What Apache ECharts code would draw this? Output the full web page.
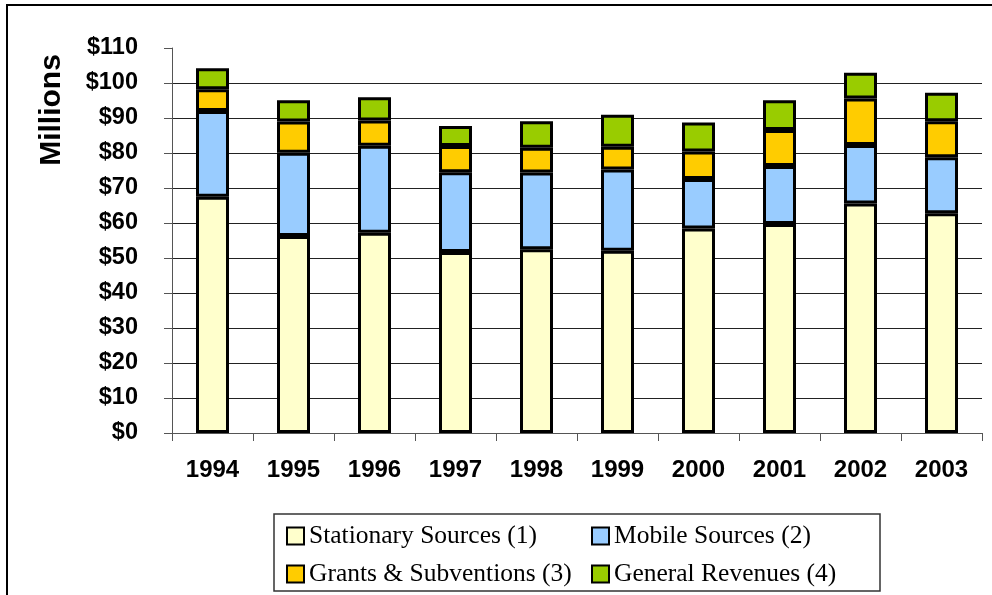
<!DOCTYPE html>
<html>
<head>
<meta charset="utf-8">
<script src="https://cdn.jsdelivr.net/npm/echarts@6/dist/echarts.min.js"></script>
<style>
  html, body { margin: 0; padding: 0; background: #fff; }
  #chart { width: 992px; height: 595px; }
</style>
</head>
<body>
<div id="chart"></div>
<script>
// data (millions of dollars)
const years = ['1994', '1995', '1996', '1997', '1998', '1999', '2000', '2001', '2002', '2003']
const stationary = [67.5, 56.3, 57.2, 51.7, 52.5, 52.1, 58.4, 59.7, 65.6, 62.8]
const mobile = [24.5, 23.8, 24.9, 22.8, 21.9, 23.2, 14.2, 16.6, 16.7, 16.0]
const grants = [6.2, 8.9, 7.2, 7.5, 7.1, 6.5, 7.8, 10.3, 13.3, 10.3]
const general = [6.0, 6.1, 6.6, 5.7, 7.6, 9.1, 8.3, 8.5, 7.3, 8.1]

const seriesNames = ['Stationary Sources (1)', 'Mobile Sources (2)', 'Grants & Subventions (3)', 'General Revenues (4)']
const seriesColors = ['#FFFFCC', '#99CCFF', '#FFCC00', '#99CC00']
const seriesData = [stationary, mobile, grants, general]

const sansBold = { fontFamily: 'Liberation Sans, Arial, sans-serif', fontWeight: 'bold', color: '#000' }

function makeSeries(i) {
  return {
    name: seriesNames[i],
    type: 'bar',
    stack: 'total',
    barWidth: 33,
    data: seriesData[i],
    itemStyle: {
      color: seriesColors[i],
      borderColor: '#000',
      borderWidth: 3,
    },
  }
}

const legendText = {
  fontFamily: 'Liberation Serif, Times New Roman, serif',
  fontSize: 25.5,
  lineHeight: 26,
  color: '#000',
}

const option = {
  animation: false,
  backgroundColor: '#fff',
  grid: { left: 172, right: 10, top: 48, bottom: 162 },
  xAxis: {
    type: 'category',
    data: years,
    axisLine: { lineStyle: { color: '#555', width: 1 } },
    axisTick: { show: true, length: 8, inside: false, lineStyle: { color: '#555' } },
    axisLabel: { ...sansBold, fontSize: 24, margin: 25 },
  },
  yAxis: {
    type: 'value',
    min: 0,
    max: 110,
    interval: 10,
    axisLine: { show: true, lineStyle: { color: '#555', width: 1 } },
    axisTick: { show: true, length: 8, lineStyle: { color: '#555' } },
    axisLabel: { ...sansBold, fontSize: 23.5, margin: 34, formatter: v => '$' + v },
    splitLine: { show: true, showMaxLine: false, lineStyle: { color: '#222', width: 1 } },
  },
  legend: [
    {
      orient: 'vertical',
      left: 281,
      top: 518,
      itemWidth: 17,
      itemHeight: 17,
      itemGap: 12,
      icon: 'rect',
      data: [seriesNames[0], seriesNames[2]],
      textStyle: legendText,
    },
    {
      orient: 'vertical',
      left: 586,
      top: 518,
      itemWidth: 17,
      itemHeight: 17,
      itemGap: 12,
      icon: 'rect',
      data: [seriesNames[1], seriesNames[3]],
      textStyle: legendText,
    },
  ],
  graphic: [
    {
      type: 'rect',
      shape: { x: 7, y: 5, width: 1000, height: 600 },
      style: { fill: 'none', stroke: '#000', lineWidth: 2 },
      silent: true,
    },
    {
      type: 'rect',
      shape: { x: 274, y: 514, width: 606, height: 77 },
      style: { fill: 'none', stroke: '#333', lineWidth: 1.5 },
      silent: true,
    },
    {
      type: 'text',
      x: 52,
      y: 110,
      rotation: Math.PI / 2,
      style: {
        text: 'Millions',
        ...sansBold,
        fill: '#000',
        fontSize: 30,
        align: 'center',
        verticalAlign: 'middle',
      },
    },
  ],
  series: [0, 1, 2, 3].map(makeSeries),
}

const chart = echarts.init(document.getElementById('chart'))
chart.setOption(option)
</script>
</body>
</html>
